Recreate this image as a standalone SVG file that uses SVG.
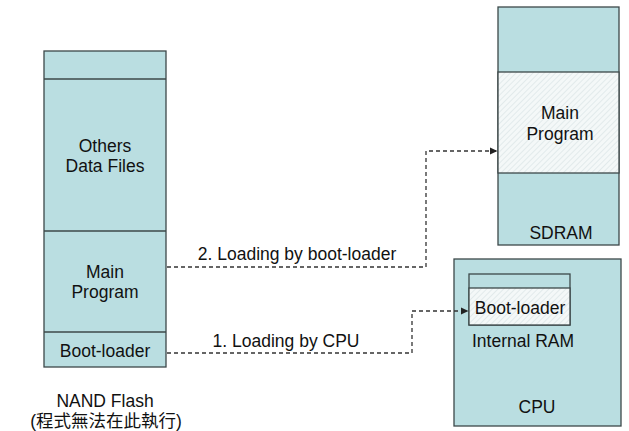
<svg xmlns="http://www.w3.org/2000/svg" width="629" height="431" viewBox="0 0 629 431">
<style>
.box{fill:#BADEE1;stroke:#3C4849;stroke-width:1.3}
.hat{fill:url(#hatch);stroke:#3C4849;stroke-width:1.3}
.ln{stroke:#3C4849;stroke-width:1.3;fill:none}
.t{font-family:"Liberation Sans",Arial,sans-serif;font-size:17.5px;fill:#111;text-anchor:middle}
.con{stroke:#333;stroke-width:1.3;fill:none;stroke-dasharray:4 3}
</style>
<defs>
<pattern id="hatch" width="4" height="4" patternUnits="userSpaceOnUse" patternTransform="rotate(45)">
<rect width="4" height="4" fill="#F4F8F8"/>
<line x1="0" y1="0" x2="0" y2="4" stroke="#D6E2E3" stroke-width="1.2"/>
</pattern>
<marker id="arr" markerWidth="8" markerHeight="8" refX="7" refY="4" orient="auto" markerUnits="userSpaceOnUse">
<path d="M0,0.5 L7.5,4 L0,7.5 Z" fill="#222"/>
</marker>
</defs>
<rect width="629" height="431" fill="#fff"/>
<g id="nand">
<rect class="box" x="44" y="51" width="122" height="316"/>
<line class="ln" x1="44" y1="79" x2="166" y2="79"/>
<line class="ln" x1="44" y1="231" x2="166" y2="231"/>
<line class="ln" x1="44" y1="332" x2="166" y2="332"/>
<text class="t" x="105" y="152">Others</text>
<text class="t" x="105" y="172">Data Files</text>
<text class="t" x="105" y="278">Main</text>
<text class="t" x="105" y="298">Program</text>
<text class="t" x="105" y="357">Boot-loader</text>
<text class="t" x="105" y="407">NAND Flash</text>
<text class="t" x="106" y="427" style="font-family:'Liberation Sans','Noto Sans CJK TC',sans-serif">(程式無法在此執行)</text>
</g>
<g id="sdram">
<rect class="box" x="498" y="7" width="121" height="238"/>
<rect class="hat" x="498" y="72" width="121" height="101"/>
<text class="t" x="560" y="119">Main</text>
<text class="t" x="560" y="140">Program</text>
<text class="t" x="561" y="239">SDRAM</text>
</g>
<g id="cpu">
<rect class="box" x="454" y="259" width="167" height="167"/>
<rect class="box" x="469" y="274" width="101" height="51"/>
<rect class="hat" x="469" y="288" width="101" height="37"/>
<text class="t" x="520" y="314">Boot-loader</text>
<text class="t" x="523" y="347">Internal RAM</text>
<text class="t" x="537" y="413">CPU</text>
</g>
<g id="connectors">
<path class="con" d="M167,267 H426 V151 H497" marker-end="url(#arr)"/>
<path class="con" d="M167,353 H412 V311 H468" marker-end="url(#arr)"/>
<text class="t" x="297" y="260">2. Loading by boot-loader</text>
<text class="t" x="286" y="347">1. Loading by CPU</text>
</g>
</svg>
